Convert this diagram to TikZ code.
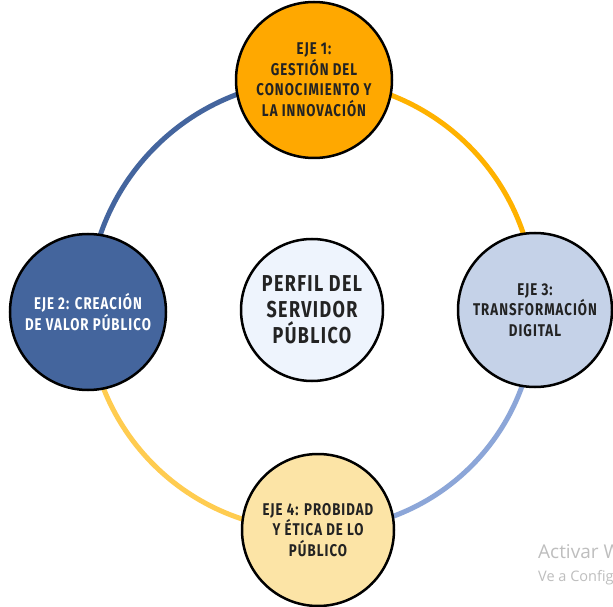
\documentclass[tikz,border=0pt]{standalone}
\usepackage{fontspec}
\setmainfont{Fira Sans}[FakeStretch=0.78,LetterSpace=6]
\newfontfamily\wmfont{Open Sans}
\usetikzlibrary{backgrounds}
\definecolor{ejeA}{RGB}{255,168,0}
\definecolor{ejeB}{RGB}{68,101,157}
\definecolor{ejeC}{RGB}{197,210,232}
\definecolor{ejeD}{RGB}{252,228,166}
\definecolor{centro}{RGB}{238,244,253}
\definecolor{arcA}{RGB}{68,101,158}
\definecolor{arcB}{RGB}{255,178,0}
\definecolor{arcC}{RGB}{140,166,216}
\definecolor{arcD}{RGB}{255,204,80}
\definecolor{txt}{RGB}{35,35,35}
\definecolor{wm}{RGB}{190,190,190}
\tikzset{
  eje/.style={circle,draw=black,line width=2.5pt,inner sep=0pt,align=center,
    font=\fontsize{17}{20.5}\selectfont\bfseries,text=txt},
  ring/.style={line width=5pt}
}
\begin{document}
\begin{tikzpicture}[x=1pt,y=1pt]
\clip (0,0) rectangle (613,606);
\node[eje,fill=ejeA,minimum size=156pt] (e1) at (314,526) {EJE 1:\\GESTIÓN DEL\\CONOCIMIENTO Y\\LA INNOVACIÓN};
\node[eje,fill=ejeB,minimum size=156pt,text=white] (e2) at (88,294) {EJE 2: CREACIÓN\\DE VALOR PÚBLICO};
\node[eje,fill=ejeC,minimum size=154pt] (e3) at (535,296) {EJE 3:\\TRANSFORMACIÓN\\DIGITAL};
\node[eje,fill=ejeD,minimum size=152pt] (e4) at (318,76) {EJE 4: PROBIDAD\\Y ÉTICA DE LO\\PÚBLICO};
\node[eje,fill=centro,minimum size=142pt,font=\fontsize{23}{26}\selectfont\bfseries] (c) at (312,296) {PERFIL DEL\\SERVIDOR\\PÚBLICO};
\begin{pgfonlayer}{background}
\fill[white] (0,0) rectangle (613,606);
\draw[ring,arcA] (e1.center) to[bend right=45] (e2.center);
\draw[ring,arcB] (e1.center) to[bend left=45] (e3.center);
\draw[ring,arcC] (e3.center) to[bend left=45] (e4.center);
\draw[ring,arcD] (e2.center) to[bend right=45] (e4.center);
\end{pgfonlayer}
\node[anchor=base west,inner sep=0pt,text=wm,font=\wmfont\fontsize{19}{20}\selectfont] (w1) at (538,48) {Activar Windows};
\node[anchor=base west,inner sep=0pt,text=wm,font=\wmfont\fontsize{14.5}{16}\selectfont] (w2) at (538,25) {Ve a Configuración para activar Windows.};
\end{tikzpicture}
\end{document}
